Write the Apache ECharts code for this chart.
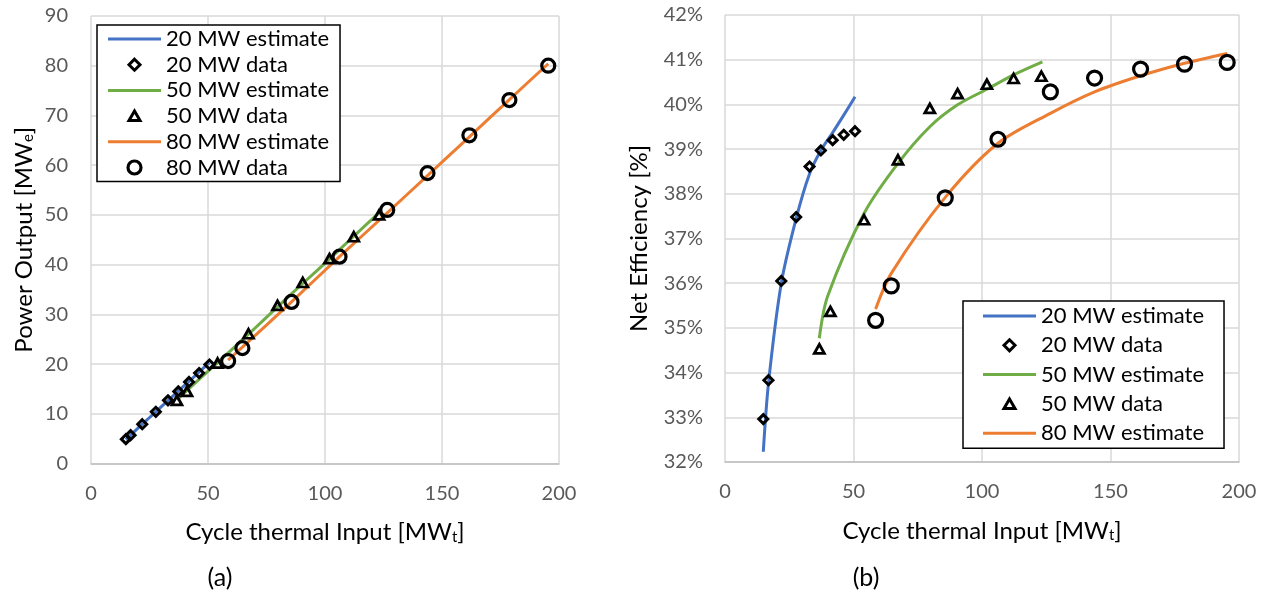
<!DOCTYPE html>
<html>
<head>
<meta charset="utf-8">
<script src="https://cdn.jsdelivr.net/npm/echarts@6.0.0/dist/echarts.min.js"></script>
<style>
  html, body { margin: 0; padding: 0; background: #fff; }
  #chart { width: 1269px; height: 595px; }
</style>
</head>
<body>
<div id="chart"></div>
<script>
// Axis ticks
const inputTicks = [0, 50, 100, 150, 200];
const powerTicks = [0, 90, 10];      // min, max, step
const effTicks = [32, 42, 1];        // min, max, step (percent)

// 20 MW plant
const inp20 = [14.9, 16.9, 21.9, 27.7, 32.9, 37.3, 41.9, 46.2, 50.6];
const pow20 = [4.9, 5.7, 7.9, 10.4, 12.7, 14.5, 16.4, 18.2, 19.9];
const eff20 = [32.96, 33.83, 36.05, 37.48, 38.61, 38.97, 39.20, 39.32, 39.40];
const estInp20 = [14.9, 16.9, 21.9, 27.7, 32.9, 37.3, 41.9, 46.2, 50.6];
const estPow20 = [4.8, 5.7, 7.9, 10.4, 12.65, 14.55, 16.5, 18.4, 20.3];
const estEff20 = [32.23, 33.75, 36.0, 37.45, 38.45, 38.97, 39.37, 39.76, 40.17];

// 50 MW plant
const inp50 = [36.7, 41.0, 54.1, 67.3, 79.7, 90.5, 101.9, 112.3, 123.1];
const pow50 = [12.7, 14.5, 20.2, 26.1, 31.8, 36.4, 41.2, 45.6, 50.0];
const eff50 = [34.53, 35.37, 37.42, 38.76, 39.91, 40.24, 40.45, 40.58, 40.63];
const estInp50 = [36.7, 39.9, 54.1, 67.3, 79.7, 90.5, 101.9, 112.3, 123.5];
const estPow50 = [12.8, 14.2, 20.3, 26.0, 31.5, 36.2, 41.1, 45.7, 50.6];
const estEff50 = [34.77, 35.70, 37.56, 38.68, 39.50, 39.99, 40.34, 40.66, 40.95];

// 80 MW plant
const inp80 = [58.6, 64.7, 85.7, 106.2, 126.6, 143.8, 161.7, 178.8, 195.4];
const pow80 = [20.6, 23.2, 32.5, 41.6, 51.0, 58.4, 66.0, 73.1, 80.0];
const eff80 = [35.17, 35.94, 37.91, 39.22, 40.28, 40.59, 40.79, 40.90, 40.94];
const estInp80 = [58.6, 64.7, 85.7, 106.2, 126.6, 143.8, 161.7, 178.8, 195.4];
const estPow80 = [20.8, 23.4, 32.5, 41.6, 50.4, 57.9, 65.7, 73.2, 80.4];
const estEff80 = [35.42, 36.22, 37.92, 39.13, 39.80, 40.28, 40.64, 40.92, 41.14];

const names = ['20 MW estimate', '20 MW data', '50 MW estimate', '50 MW data', '80 MW estimate', '80 MW data'];
const FONT = 'Lato, "Open Sans", sans-serif';
const BLUE = '#4472C4', GREEN = '#70AD47', ORANGE = '#ED7D31';

const zip = (xs, ys) => xs.map((x, i) => [x, ys[i]]);

// Legend icons (path bounds padded so each marker keeps its own size)
const ICON_LINE = 'path://M0,0H53V3H0Z';
const ICON_DIAMOND = 'path://M0,0M14,14M7,1.5L12.5,7L7,12.5L1.5,7Z';
const ICON_TRIANGLE = 'path://M0,0M14,14M7,2L12.5,11.5L1.5,11.5Z';
const ICON_CIRCLE = 'path://M0,0M14,14M7,0.5A6.5,6.5,0,1,1,6.99,0.5Z';

const markerStyle = { color: 'rgba(0,0,0,0)', borderColor: '#000', borderWidth: 3 };

function legendItems(withCircle) {
  const items = [
    { name: names[0], icon: ICON_LINE, itemStyle: { color: BLUE, borderWidth: 0 } },
    { name: names[1], icon: ICON_DIAMOND, itemStyle: markerStyle },
    { name: names[2], icon: ICON_LINE, itemStyle: { color: GREEN, borderWidth: 0 } },
    { name: names[3], icon: ICON_TRIANGLE, itemStyle: markerStyle },
    { name: names[4], icon: ICON_LINE, itemStyle: { color: ORANGE, borderWidth: 0 } }
  ];
  if (withCircle) items.push({ name: names[5], icon: ICON_CIRCLE, itemStyle: { color: 'rgba(0,0,0,0)', borderColor: '#000', borderWidth: 3.2 } });
  return items;
}

function axisName(text, sub) {
  return '{t|' + text + '}{s|' + sub + '}{t|]}';
}
const nameRich = {
  t: { fontFamily: FONT, fontSize: 24, color: '#000', lineHeight: 30, verticalAlign: 'bottom' },
  s: { fontFamily: FONT, fontSize: 15, color: '#000', lineHeight: 17, verticalAlign: 'bottom' }
};

function xAxisFor(gridIndex) {
  return {
    gridIndex, type: 'value',
    min: inputTicks[0], max: inputTicks[inputTicks.length - 1], interval: inputTicks[1] - inputTicks[0],
    name: axisName('Cycle thermal Input [MW', 't'),
    nameLocation: 'middle', nameGap: 51,
    nameTextStyle: { rich: nameRich },
    axisLine: { show: true, lineStyle: { color: '#bfbfbf', width: 1.5 } },
    axisTick: { show: false },
    axisLabel: { color: '#595959', fontFamily: FONT, fontSize: 20, margin: 20 },
    splitLine: { show: true, lineStyle: { color: '#d9d9d9', width: 1.5 } }
  };
}

const baseY = {
  type: 'value',
  nameLocation: 'middle',
  nameTextStyle: { rich: nameRich },
  axisLine: { show: false },
  axisTick: { show: false },
  splitLine: { show: true, lineStyle: { color: '#d9d9d9', width: 1.5 } }
};

function lineSeries(name, axis, xs, ys, color) {
  return {
    name, type: 'line', xAxisIndex: axis, yAxisIndex: axis,
    data: zip(xs, ys), symbol: 'none', smooth: 0.3,
    lineStyle: { color, width: 3 }, itemStyle: { color }, z: 2
  };
}
function dataSeries(name, axis, xs, ys, symbol, size, bw) {
  return {
    name, type: 'scatter', xAxisIndex: axis, yAxisIndex: axis,
    data: zip(xs, ys), symbol, symbolSize: size,
    itemStyle: { color: 'rgba(0,0,0,0)', borderColor: '#000', borderWidth: bw, opacity: 1 }, z: 3
  };
}

const chart = echarts.init(document.getElementById('chart'), null, { renderer: 'canvas' });
chart.setOption({
  animation: false,
  backgroundColor: '#fff',
  textStyle: { fontFamily: FONT },
  grid: [
    { left: 91, top: 16, width: 468, height: 447.5, containLabel: false },
    { left: 725, top: 15, width: 514, height: 447, containLabel: false }
  ],
  xAxis: [xAxisFor(0), xAxisFor(1)],
  yAxis: [
    Object.assign({}, baseY, {
      gridIndex: 0, min: powerTicks[0], max: powerTicks[1], interval: powerTicks[2],
      name: axisName('Power Output [MW', 'e'), nameGap: 55,
      axisLabel: { color: '#595959', fontFamily: FONT, fontSize: 20, margin: 23 }
    }),
    Object.assign({}, baseY, {
      gridIndex: 1, min: effTicks[0], max: effTicks[1], interval: effTicks[2],
      name: '{t|Net Efficiency [%]}', nameGap: 74,
      axisLabel: { color: '#595959', fontFamily: FONT, fontSize: 20, margin: 22, formatter: '{value}%' }
    })
  ],
  legend: [
    {
      orient: 'vertical', left: 97, top: 25,
      data: legendItems(true),
      itemWidth: 53, itemHeight: 14, itemGap: 3.7,
      padding: [3, 11, 3, 11],
      borderColor: '#000', borderWidth: 1.5, backgroundColor: '#fff',
      selectedMode: false,
      textStyle: { fontFamily: FONT, fontSize: 22, color: '#000', lineHeight: 22 }
    },
    {
      orient: 'vertical', left: 963, top: 301,
      data: legendItems(false),
      itemWidth: 53, itemHeight: 14, itemGap: 7.3,
      padding: [4, 20, 4, 20],
      borderColor: '#000', borderWidth: 1.5, backgroundColor: '#fff',
      selectedMode: false,
      textStyle: { fontFamily: FONT, fontSize: 22, color: '#000', lineHeight: 22 }
    }
  ],
  graphic: [
    { type: 'text', x: 220, y: 578, style: { text: '(a)', fontSize: 25, fontFamily: FONT, fill: '#000', align: 'center', verticalAlign: 'middle' } },
    { type: 'text', x: 866, y: 578, style: { text: '(b)', fontSize: 25, fontFamily: FONT, fill: '#000', align: 'center', verticalAlign: 'middle' } }
  ],
  series: [
    // (a) power output
    lineSeries(names[0], 0, estInp20, estPow20, BLUE),
    dataSeries(names[1], 0, inp20, pow20, 'diamond', 9, 3),
    lineSeries(names[2], 0, estInp50, estPow50, GREEN),
    dataSeries(names[3], 0, inp50, pow50, 'triangle', [10, 9], 2.8),
    lineSeries(names[4], 0, estInp80, estPow80, ORANGE),
    dataSeries(names[5], 0, inp80, pow80, 'circle', 13, 3.2),
    // (b) net efficiency
    lineSeries(names[0], 1, estInp20, estEff20, BLUE),
    dataSeries(names[1], 1, inp20, eff20, 'diamond', 9, 3),
    lineSeries(names[2], 1, estInp50, estEff50, GREEN),
    dataSeries(names[3], 1, inp50, eff50, 'triangle', [10, 9], 2.8),
    lineSeries(names[4], 1, estInp80, estEff80, ORANGE),
    dataSeries(names[5], 1, inp80, eff80, 'circle', 14, 3.2)
  ]
});
</script>
</body>
</html>
